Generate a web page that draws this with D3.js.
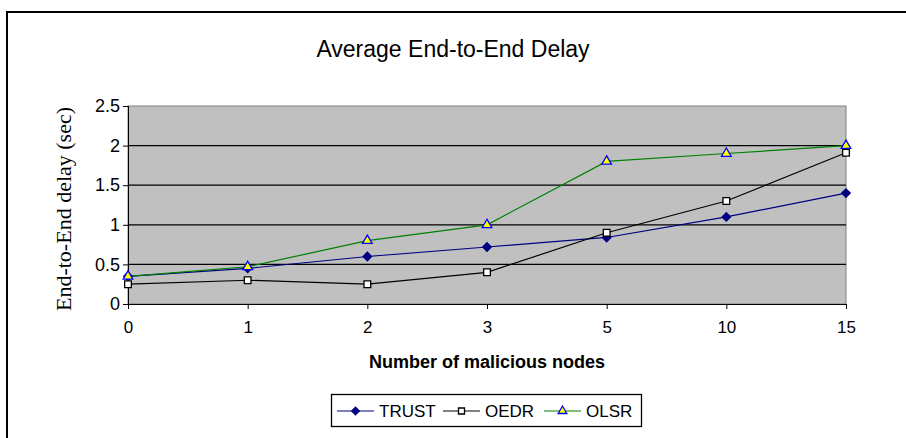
<!DOCTYPE html>
<html lang="en">
<head>
<meta charset="utf-8">
<style>
  body { margin: 0; background: #fff; }
  svg text { font-family: "Liberation Sans", Arial, sans-serif; fill: #000; }
  .grid line { stroke: #000; stroke-width: 1.2; }
  .axis path, .axis line { stroke: #000; }
</style>
<script src="https://d3js.org/d3.v7.min.js"></script>
</head>
<body>
<svg width="906" height="438"></svg>
<script>
// data
var categories = ["0", "1", "2", "3", "5", "10", "15"];
var trust = [0.35, 0.45, 0.60, 0.72, 0.84, 1.10, 1.40];
var oedr  = [0.25, 0.30, 0.25, 0.40, 0.90, 1.30, 1.91];
var olsr  = [0.35, 0.47, 0.80, 1.00, 1.80, 1.90, 2.00];
var yTicks = [0, 0.5, 1, 1.5, 2, 2.5];
var seriesNames = ["TRUST", "OEDR", "OLSR"];

var svg = d3.select("svg");

var plotLeft = 128, plotRight = 846, plotTop = 106, plotBottom = 304;

// outer frame
svg.append("rect")
    .attr("x", 7).attr("y", 12)
    .attr("width", 960).attr("height", 500)
    .attr("fill", "#fff")
    .attr("stroke", "#000")
    .attr("stroke-width", 2);

var x = d3.scalePoint().domain(categories).range([plotLeft, plotRight]).padding(0);
var y = d3.scaleLinear().domain([0, 2.5]).range([plotBottom, plotTop]);

// plot area
svg.append("rect")
    .attr("x", plotLeft).attr("y", plotTop)
    .attr("width", plotRight - plotLeft).attr("height", plotBottom - plotTop)
    .attr("fill", "#c0c0c0")
    .attr("stroke", "#808080")
    .attr("stroke-width", 1);

svg.append("g")
    .attr("class", "grid")
  .selectAll("line")
  .data(yTicks.filter(function(d) { return d > 0 && d < 2.5; }))
  .enter().append("line")
    .attr("x1", plotLeft).attr("x2", plotRight)
    .attr("y1", function(d) { return y(d); })
    .attr("y2", function(d) { return y(d); });

// axes
var yAxis = svg.append("g")
    .attr("class", "axis")
    .attr("transform", "translate(" + plotLeft + ",0)")
    .call(d3.axisLeft(y).tickValues(yTicks).tickSize(5).tickPadding(3)
      .tickFormat(function(d) { return d; }));
yAxis.select(".domain").attr("d", "M0.5," + plotTop + "V" + plotBottom);
yAxis.selectAll("text").attr("font-size", 18).attr("font-family", "Liberation Sans");

var xAxis = svg.append("g")
    .attr("class", "axis")
    .attr("transform", "translate(0," + plotBottom + ")")
    .call(d3.axisBottom(x).tickSize(5).tickPadding(12));
xAxis.select(".domain").attr("d", "M" + plotLeft + ",0.5H" + plotRight);
xAxis.selectAll("text").attr("font-size", 17).attr("font-family", "Liberation Sans");

// titles
svg.append("text")
    .attr("x", 453).attr("y", 57)
    .attr("text-anchor", "middle")
    .attr("font-size", 23)
    .text("Average End-to-End Delay");

svg.append("text")
    .attr("x", (plotLeft + plotRight) / 2).attr("y", 368)
    .attr("text-anchor", "middle")
    .attr("font-size", 18)
    .attr("font-weight", "bold")
    .text("Number of malicious nodes");

svg.append("text")
    .attr("transform", "translate(71," + ((plotTop + plotBottom) / 2 + 4) + ") rotate(-90)")
    .attr("text-anchor", "middle")
    .attr("font-size", 22)
    .style("font-family", "'Liberation Serif', 'Times New Roman', serif")
    .text("End-to-End delay (sec)");

// series
var styles = {
  TRUST: { line: "#000080", fill: "#000080", stroke: "#000080", shape: d3.symbolSquare, size: 36, rot: 45 },
  OEDR:  { line: "#000000", fill: "#ffffff", stroke: "#000000", shape: d3.symbolSquare, size: 45, rot: 0 },
  OLSR:  { line: "#008000", fill: "#ffff00", stroke: "#0000ff", shape: d3.symbolTriangle, size: 40, rot: 0 }
};
var allSeries = [trust, oedr, olsr];

var line = d3.line()
    .x(function(d, i) { return x(categories[i]); })
    .y(function(d) { return y(d); });

allSeries.forEach(function(vals, s) {
  var st = styles[seriesNames[s]];
  svg.append("path")
      .datum(vals)
      .attr("d", line)
      .attr("fill", "none")
      .attr("stroke", st.line)
      .attr("stroke-width", 1.2);
});

allSeries.forEach(function(vals, s) {
  var st = styles[seriesNames[s]];
  svg.append("g").selectAll("path")
    .data(vals)
    .enter().append("path")
      .attr("transform", function(d, i) {
        return "translate(" + x(categories[i]) + "," + y(d) + ") rotate(" + st.rot + ")";
      })
      .attr("d", d3.symbol().type(st.shape).size(st.size))
      .attr("fill", st.fill)
      .attr("stroke", st.stroke)
      .attr("stroke-width", 1.3);
});

// legend
var legend = svg.append("g");
legend.append("rect")
    .attr("x", 331.5).attr("y", 394.5)
    .attr("width", 310).attr("height", 32)
    .attr("fill", "#fff")
    .attr("stroke", "#000")
    .attr("stroke-width", 1.3);

var legendX = [337, 443, 544];
seriesNames.forEach(function(name, i) {
  var st = styles[name];
  var lx = legendX[i];
  legend.append("line")
      .attr("x1", lx).attr("x2", lx + 37)
      .attr("y1", 411).attr("y2", 411)
      .attr("stroke", st.line)
      .attr("stroke-width", 1.2);
  legend.append("path")
      .attr("transform", "translate(" + (lx + 18.5) + ",411) rotate(" + st.rot + ")")
      .attr("d", d3.symbol().type(st.shape).size(st.size * 0.8))
      .attr("fill", st.fill)
      .attr("stroke", st.stroke)
      .attr("stroke-width", 1.3);
  legend.append("text")
      .attr("x", lx + 42).attr("y", 417)
      .attr("font-size", 17)
      .text(name);
});
</script>
</body>
</html>
